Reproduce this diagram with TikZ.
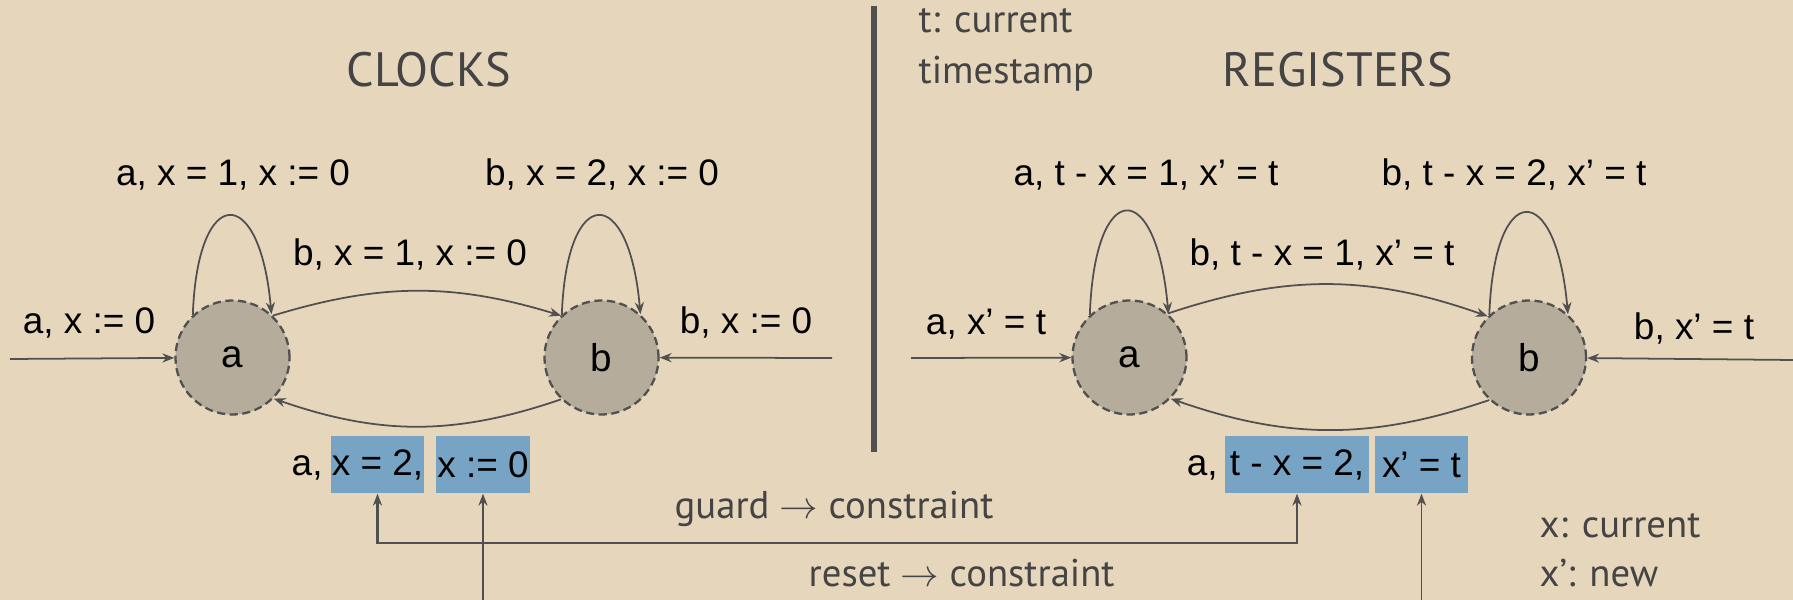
\documentclass[tikz,border=0pt]{standalone}
\usepackage{fontspec}
\setmainfont{Liberation Sans}
\newfontfamily\ptsans{PT Sans}
\usetikzlibrary{positioning,arrows.meta}
\definecolor{figBeige}{RGB}{230,214,188}
\definecolor{figState}{RGB}{181,172,155}
\definecolor{figLine}{RGB}{80,80,80}
\definecolor{figInk}{RGB}{68,68,68}
\definecolor{figHigh}{RGB}{119,164,196}

\begin{document}
\begin{tikzpicture}[
  x=0.01cm, y=0.01cm, every node/.style={font=\fontsize{10.5}{12.5}\selectfont},
  >={Stealth[length=3.4pt,width=2.6pt]},
  loc/.style={circle, draw=figLine, dash pattern=on 2.3pt off 1.3pt, line width=0.65pt,
              fill=figState, minimum size=1.14cm, inner sep=0pt, font=\fontsize{11}{13}\selectfont},
  tr/.style={draw=figLine, line width=0.5pt, ->},
  hl/.style={fill=figHigh, minimum height=0.57cm, inner xsep=0pt},
  lbl/.style={anchor=base},
  heading/.style={font=\ptsans\fontsize{13.7}{16}\selectfont, text=figInk, anchor=base},
  gnote/.style={font=\ptsans\fontsize{11}{13}\selectfont, text=figInk, anchor=base west, inner sep=0pt}
]
\fill[figBeige] (0,0) rectangle (1793,600);
\useasboundingbox (0,0) rectangle (1793,600);

% clocks
\node[heading] (tclk) at (429,513) {CLOCKS};
\node[loc] (a) at (232.5,242.5) {a};
\node[loc] (b) at (601.5,242.5) {b};
\coordinate (ina) at (10,241);
\coordinate (inb) at (832,242);

\draw[tr] (ina) -- (a);
\draw[tr] (inb) -- (b);
\draw[tr] (a.133) .. controls +(88:132) and +(95:132) .. (a.48);
\draw[tr] (b.133) .. controls +(88:132) and +(95:132) .. (b.48);
\draw[tr] (a.46) to[bend left=17] (b.134);
\draw[tr] (b.226) to[bend left=19] (a.315);

\node[lbl] (lina) at (89,266) {a, x := 0};
\node[lbl] (linb) at (746,266) {b, x := 0};
\node[lbl] (lloopa) at (233,414) {a, x = 1, x := 0};
\node[lbl] (lloopb) at (602,414) {b, x = 2, x := 0};
\node[lbl] (lab) at (410,334) {b, x = 1, x := 0};

\node[hl, minimum width=0.93cm] (g1) at (377.5,135.5) {x = 2,};
\node[hl, minimum width=0.94cm] (g2) at (483,135.5) {x := 0};
\node[anchor=base east, inner sep=0pt] (lba) at ([xshift=-2pt]g1.base west) {a,};

% separator
\coordinate (divtop) at (874,594);
\coordinate (divbot) at (874,148);
\draw[figLine, line width=1.6pt] (divtop) -- (divbot);

% registers
\node[heading] (treg) at (1338,513) {REGISTERS};
\node[gnote] (tnow) at (918,567) {t: current};
\node[gnote] (tstamp) at (918,516) {timestamp};

\node[loc] (ra) at (1129.5,242.5) {a};
\node[loc] (rb) at (1529,242.5) {b};
\coordinate (inra) at (911,242);
\coordinate (inrb) at (1793,240);

\draw[tr] (inra) -- (ra);
\draw[tr] (inrb) -- (rb);
\draw[tr] (ra.133) .. controls +(88:138) and +(95:138) .. (ra.48);
\draw[tr] (rb.133) .. controls +(88:136) and +(95:136) .. (rb.48);
\draw[tr] (ra.49) to[bend left=19] (rb.135);
\draw[tr] (rb.227) to[bend left=19] (ra.315);

\node[lbl] (rlina) at (986,265) {a, x’ = t};
\node[lbl] (rlinb) at (1694,260) {b, x’ = t};
\node[lbl] (rloopa) at (1146,414) {a, t - x = 1, x’ = t};
\node[lbl] (rloopb) at (1514,414) {b, t - x = 2, x’ = t};
\node[lbl] (rab) at (1322,334) {b, t - x = 1, x’ = t};

\node[hl, minimum width=1.44cm] (g3) at (1297,135.5) {t - x = 2,};
\node[hl, minimum width=0.93cm] (g4) at (1421.5,135.5) {x’ = t};
\node[anchor=base east, inner sep=0pt] (rlba) at ([xshift=-1.7pt]g3.base west) {a,};

% guard / reset
\coordinate (gjoin) at (837,57);
\coordinate (bot) at (0,0);
\draw[tr, <->, line width=0.6pt] (g1.south) |- (gjoin) -| (g3.south);
\draw[tr] (g2.south |- bot) -- (g2.south);
\draw[tr] (g4.south |- bot) -- (g4.south);

\node[gnote] (tguard) at (674,81) {guard $\rightarrow$ constraint};
\node[gnote] (treset) at (808,13) {reset $\rightarrow$ constraint};
\node[gnote] (xcur) at (1539,62) {x: current};
\node[gnote] (xnew) at (1539,13) {x’: new};
\end{tikzpicture}
\end{document}
